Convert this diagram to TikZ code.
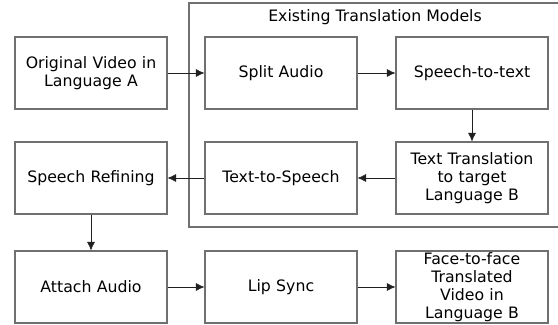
\documentclass[tikz,border=0pt]{standalone}
\usepackage{fontspec}
\setmainfont{DejaVu Sans}
\usepackage{tikz}
\usetikzlibrary{arrows.meta,positioning}
\usepackage{xcolor}
\definecolor{boxline}{HTML}{707070}
\definecolor{arrline}{HTML}{202020}

\begin{document}
\begin{tikzpicture}[x=0.75pt, y=-0.75pt,
  stage/.style={draw=boxline, thick, minimum width=114pt, minimum height=54pt,
    text width=112pt, align=center, inner sep=0pt,
    font=\fontsize{11.8}{13.4}\selectfont},
  flow/.style={-{Latex[length=6.5pt,width=6pt]}, arrline}]
\useasboundingbox (0,0) rectangle (558,325);

% Existing models frame
\draw[boxline, thick] (189,3) rectangle (570,227);
\node[font=\fontsize{11.8}{13}\selectfont] (frametitle) at (375,17) {Existing Translation Models};

% Row 1
\node[stage] (orig) at (91,73) {Original Video in\\Language A};
\node[stage] (split) at (281,73) {Split Audio};
\node[stage] (stt) at (472,73) {Speech-to-text};

% Row 2
\node[stage] (refine) at (91,178) {Speech Refining};
\node[stage] (tts) at (281,178) {Text-to-Speech};
\node[stage] (trans) at (472,178) {Text Translation\\to target\\Language B};

% Row 3
\node[stage] (attach) at (91,287) {Attach Audio};
\node[stage] (lips) at (281,287) {Lip Sync};
\node[stage] (result) at (472,287) {Face-to-face\\Translated\\Video in\\Language B};

% Connectors
\draw[flow] (orig) -- (split);
\draw[flow] (split) -- (stt);
\draw[flow] (stt) -- (trans);
\draw[flow] (trans) -- (tts);
\draw[flow] (tts) -- (refine);
\draw[flow] (refine) -- (attach);
\draw[flow] (attach) -- (lips);
\draw[flow] (lips) -- (result);
\end{tikzpicture}
\end{document}
